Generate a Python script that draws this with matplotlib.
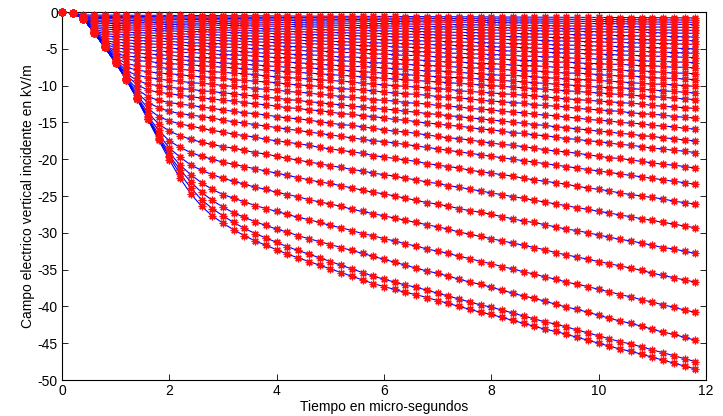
import matplotlib
matplotlib.use("Agg")
import matplotlib.pyplot as plt

# time samples (micro-seconds)
t_us = [0.0, 0.2, 0.4, 0.6, 0.8, 1.0, 1.2, 1.4, 1.6, 1.8,
        2.0, 2.2, 2.4, 2.6, 2.8, 3.0, 3.2, 3.4, 3.6, 3.8,
        4.0, 4.2, 4.4, 4.6, 4.8, 5.0, 5.2, 5.4, 5.6, 5.8,
        6.0, 6.2, 6.4, 6.6, 6.8, 7.0, 7.2, 7.4, 7.6, 7.8,
        8.0, 8.2, 8.4, 8.6, 8.8, 9.0, 9.2, 9.4, 9.6, 9.8,
        10.0, 10.2, 10.4, 10.6, 10.8, 11.0, 11.2, 11.4, 11.6, 11.8]

# field magnitude (kV/m) of each curve (plotted as negative)
e01 = [0, 0.1, 0.9, 2.8, 4.8, 6.9, 9.2, 11.8, 14.6, 17.4,
       20.1, 22.6, 24.7, 26.4, 27.7, 28.7, 29.6, 30.4, 31.1, 31.7,
       32.3, 32.9, 33.4, 33.9, 34.4, 34.9, 35.4, 35.9, 36.4, 36.9,
       37.3, 37.7, 38.1, 38.4, 38.8, 39.2, 39.6, 40.0, 40.4, 40.8,
       41.1, 41.5, 41.9, 42.3, 42.7, 43.1, 43.4, 43.8, 44.2, 44.6,
       45.0, 45.4, 45.8, 46.1, 46.5, 46.9, 47.3, 47.7, 48.1, 48.5]
e02 = [0, 0.1, 0.9, 2.8, 4.8, 6.9, 9.2, 11.8, 14.6, 17.2,
       19.7, 22.0, 23.9, 25.5, 26.7, 27.7, 28.6, 29.4, 30.1, 30.7,
       31.3, 31.9, 32.4, 32.9, 33.4, 33.9, 34.4, 34.9, 35.4, 35.9,
       36.3, 36.7, 37.1, 37.4, 37.8, 38.2, 38.6, 39.0, 39.4, 39.8,
       40.1, 40.5, 40.9, 41.3, 41.7, 42.1, 42.4, 42.8, 43.2, 43.6,
       44.0, 44.4, 44.8, 45.1, 45.5, 45.9, 46.3, 46.7, 47.1, 47.5]
e03 = [0, 0.1, 0.9, 2.8, 4.8, 6.9, 9.2, 11.8, 14.5, 17.1,
       19.5, 21.4, 23.1, 24.5, 25.6, 26.5, 27.3, 27.9, 28.5, 29.0,
       29.5, 29.9, 30.4, 30.8, 31.2, 31.6, 32.0, 32.4, 32.8, 33.2,
       33.6, 34.0, 34.4, 34.8, 35.2, 35.5, 35.9, 36.3, 36.7, 37.0,
       37.4, 37.8, 38.2, 38.6, 38.9, 39.3, 39.7, 40.1, 40.4, 40.8,
       41.2, 41.6, 42.0, 42.3, 42.7, 43.1, 43.5, 43.8, 44.2, 44.6]
e04 = [0, 0.1, 0.9, 2.8, 4.8, 6.9, 9.2, 11.7, 14.5, 16.9,
       19.1, 20.8, 22.1, 23.2, 24.1, 24.8, 25.3, 25.8, 26.3, 26.7,
       27.1, 27.5, 27.9, 28.2, 28.6, 29.0, 29.3, 29.7, 30.1, 30.4,
       30.8, 31.1, 31.5, 31.8, 32.2, 32.5, 32.8, 33.2, 33.5, 33.9,
       34.2, 34.6, 34.9, 35.3, 35.6, 36.0, 36.3, 36.7, 37.0, 37.3,
       37.7, 38.0, 38.4, 38.7, 39.1, 39.4, 39.8, 40.1, 40.5, 40.8]
e05 = [0, 0.1, 0.9, 2.8, 4.8, 6.9, 9.2, 11.7, 14.3, 16.6,
       18.5, 19.7, 20.8, 21.5, 22.1, 22.6, 23.0, 23.4, 23.8, 24.1,
       24.5, 24.8, 25.1, 25.5, 25.8, 26.1, 26.4, 26.8, 27.1, 27.4,
       27.7, 28.0, 28.3, 28.6, 28.9, 29.2, 29.5, 29.9, 30.2, 30.5,
       30.8, 31.1, 31.4, 31.7, 32.0, 32.3, 32.7, 33.0, 33.3, 33.6,
       33.9, 34.2, 34.5, 34.8, 35.1, 35.5, 35.8, 36.1, 36.4, 36.7]
e06 = [0, 0.1, 0.9, 2.8, 4.8, 6.9, 9.2, 11.7, 14.1, 16.1,
       17.5, 18.4, 19.1, 19.6, 20.0, 20.4, 20.7, 21.0, 21.3, 21.6,
       21.9, 22.2, 22.5, 22.8, 23.1, 23.3, 23.6, 23.9, 24.2, 24.5,
       24.7, 25.0, 25.3, 25.6, 25.9, 26.1, 26.4, 26.7, 27.0, 27.2,
       27.5, 27.8, 28.1, 28.4, 28.6, 28.9, 29.2, 29.5, 29.7, 30.0,
       30.3, 30.6, 30.9, 31.1, 31.4, 31.7, 32.0, 32.2, 32.5, 32.8]
e07 = [0, 0.1, 0.9, 2.8, 4.8, 6.9, 9.1, 11.5, 13.7, 15.2,
       16.2, 16.8, 17.3, 17.7, 18.0, 18.3, 18.5, 18.8, 19.1, 19.3,
       19.6, 19.9, 20.1, 20.4, 20.6, 20.9, 21.1, 21.4, 21.6, 21.9,
       22.1, 22.3, 22.6, 22.8, 23.1, 23.3, 23.6, 23.8, 24.1, 24.3,
       24.6, 24.8, 25.1, 25.3, 25.6, 25.8, 26.1, 26.3, 26.6, 26.8,
       27.1, 27.3, 27.6, 27.8, 28.1, 28.3, 28.6, 28.8, 29.1, 29.3]
e08 = [0, 0.1, 0.9, 2.8, 4.8, 6.9, 9.1, 11.3, 13.1, 14.2,
       14.8, 15.2, 15.5, 15.8, 16.1, 16.3, 16.6, 16.8, 17.0, 17.3,
       17.5, 17.7, 17.9, 18.1, 18.4, 18.6, 18.8, 19.0, 19.2, 19.5,
       19.7, 19.9, 20.1, 20.3, 20.6, 20.8, 21.0, 21.2, 21.5, 21.7,
       21.9, 22.1, 22.3, 22.6, 22.8, 23.0, 23.2, 23.4, 23.7, 23.9,
       24.1, 24.3, 24.6, 24.8, 25.0, 25.2, 25.4, 25.7, 25.9, 26.1]
e09 = [0, 0.1, 0.9, 2.8, 4.8, 6.9, 9.0, 11.0, 12.3, 13.0,
       13.5, 13.8, 14.0, 14.2, 14.4, 14.7, 14.9, 15.1, 15.3, 15.5,
       15.7, 15.9, 16.1, 16.3, 16.5, 16.7, 16.9, 17.1, 17.3, 17.5,
       17.6, 17.8, 18.0, 18.2, 18.4, 18.6, 18.8, 19.0, 19.2, 19.4,
       19.6, 19.8, 20.0, 20.2, 20.4, 20.6, 20.8, 21.0, 21.2, 21.4,
       21.6, 21.8, 22.0, 22.2, 22.4, 22.6, 22.8, 23.0, 23.2, 23.4]
e10 = [0, 0.1, 0.9, 2.8, 4.8, 6.8, 8.9, 10.5, 11.5, 12.0,
       12.3, 12.5, 12.7, 12.9, 13.1, 13.3, 13.5, 13.7, 13.8, 14.0,
       14.2, 14.4, 14.5, 14.7, 14.9, 15.1, 15.3, 15.4, 15.6, 15.8,
       16.0, 16.2, 16.3, 16.5, 16.7, 16.9, 17.1, 17.2, 17.4, 17.6,
       17.8, 18.0, 18.1, 18.3, 18.5, 18.7, 18.9, 19.0, 19.2, 19.4,
       19.6, 19.8, 19.9, 20.1, 20.3, 20.5, 20.7, 20.8, 21.0, 21.2]
e11 = [0, 0.1, 0.9, 2.8, 4.8, 6.8, 8.6, 9.9, 10.6, 10.9,
       11.1, 11.3, 11.5, 11.7, 11.8, 12.0, 12.1, 12.3, 12.5, 12.6,
       12.8, 13.0, 13.1, 13.3, 13.4, 13.6, 13.8, 13.9, 14.1, 14.2,
       14.4, 14.6, 14.7, 14.9, 15.1, 15.2, 15.4, 15.5, 15.7, 15.9,
       16.0, 16.2, 16.4, 16.5, 16.7, 16.8, 17.0, 17.2, 17.3, 17.5,
       17.6, 17.8, 18.0, 18.1, 18.3, 18.5, 18.6, 18.8, 18.9, 19.1]
e12 = [0, 0.1, 0.9, 2.8, 4.8, 6.7, 8.4, 9.3, 9.8, 10.0,
       10.2, 10.4, 10.5, 10.7, 10.8, 11.0, 11.1, 11.3, 11.4, 11.6,
       11.7, 11.9, 12.0, 12.2, 12.3, 12.5, 12.6, 12.8, 12.9, 13.1,
       13.2, 13.3, 13.5, 13.6, 13.8, 13.9, 14.1, 14.2, 14.4, 14.5,
       14.7, 14.8, 15.0, 15.1, 15.3, 15.4, 15.6, 15.7, 15.9, 16.0,
       16.2, 16.3, 16.5, 16.6, 16.8, 16.9, 17.1, 17.2, 17.4, 17.5]
e13 = [0, 0.1, 0.9, 2.8, 4.8, 6.6, 8.0, 8.6, 8.9, 9.1,
       9.3, 9.4, 9.6, 9.7, 9.8, 10.0, 10.1, 10.2, 10.4, 10.5,
       10.6, 10.8, 10.9, 11.0, 11.2, 11.3, 11.5, 11.6, 11.7, 11.9,
       12.0, 12.1, 12.3, 12.4, 12.5, 12.7, 12.8, 12.9, 13.1, 13.2,
       13.3, 13.5, 13.6, 13.7, 13.9, 14.0, 14.1, 14.3, 14.4, 14.6,
       14.7, 14.8, 15.0, 15.1, 15.2, 15.4, 15.5, 15.6, 15.8, 15.9]
e14 = [0, 0.1, 0.9, 2.8, 4.7, 6.5, 7.5, 7.9, 8.1, 8.3,
       8.4, 8.5, 8.7, 8.8, 8.9, 9.0, 9.2, 9.3, 9.4, 9.5,
       9.6, 9.8, 9.9, 10.0, 10.1, 10.3, 10.4, 10.5, 10.6, 10.7,
       10.9, 11.0, 11.1, 11.2, 11.3, 11.5, 11.6, 11.7, 11.8, 12.0,
       12.1, 12.2, 12.3, 12.4, 12.6, 12.7, 12.8, 12.9, 13.1, 13.2,
       13.3, 13.4, 13.5, 13.7, 13.8, 13.9, 14.0, 14.2, 14.3, 14.4]
e15 = [0, 0.1, 0.9, 2.8, 4.7, 6.2, 7.0, 7.3, 7.4, 7.5,
       7.7, 7.8, 7.9, 8.0, 8.1, 8.2, 8.3, 8.4, 8.5, 8.7,
       8.8, 8.9, 9.0, 9.1, 9.2, 9.3, 9.4, 9.5, 9.7, 9.8,
       9.9, 10.0, 10.1, 10.2, 10.3, 10.4, 10.5, 10.7, 10.8, 10.9,
       11.0, 11.1, 11.2, 11.3, 11.4, 11.5, 11.7, 11.8, 11.9, 12.0,
       12.1, 12.2, 12.3, 12.4, 12.5, 12.7, 12.8, 12.9, 13.0, 13.1]
e16 = [0, 0.1, 0.9, 2.8, 4.7, 5.9, 6.4, 6.6, 6.7, 6.9,
       7.0, 7.1, 7.2, 7.3, 7.4, 7.5, 7.6, 7.7, 7.8, 7.9,
       8.0, 8.1, 8.2, 8.3, 8.4, 8.5, 8.6, 8.7, 8.8, 8.9,
       9.0, 9.1, 9.2, 9.3, 9.4, 9.5, 9.6, 9.7, 9.8, 9.9,
       10.0, 10.1, 10.2, 10.3, 10.4, 10.5, 10.6, 10.7, 10.8, 10.9,
       11.0, 11.1, 11.2, 11.3, 11.4, 11.5, 11.6, 11.7, 11.8, 11.9]
e17 = [0, 0.1, 0.9, 2.8, 4.6, 5.6, 6.0, 6.1, 6.2, 6.3,
       6.4, 6.5, 6.6, 6.7, 6.8, 6.9, 7.0, 7.1, 7.2, 7.3,
       7.4, 7.5, 7.6, 7.6, 7.7, 7.8, 7.9, 8.0, 8.1, 8.2,
       8.3, 8.4, 8.5, 8.6, 8.7, 8.8, 8.9, 8.9, 9.0, 9.1,
       9.2, 9.3, 9.4, 9.5, 9.6, 9.7, 9.8, 9.9, 10.0, 10.1,
       10.2, 10.3, 10.3, 10.4, 10.5, 10.6, 10.7, 10.8, 10.9, 11.0]
e18 = [0, 0.1, 0.9, 2.8, 4.5, 5.3, 5.5, 5.6, 5.7, 5.8,
       5.9, 6.0, 6.1, 6.2, 6.2, 6.3, 6.4, 6.5, 6.6, 6.7,
       6.8, 6.8, 6.9, 7.0, 7.1, 7.2, 7.3, 7.4, 7.4, 7.5,
       7.6, 7.7, 7.8, 7.9, 8.0, 8.0, 8.1, 8.2, 8.3, 8.4,
       8.5, 8.6, 8.6, 8.7, 8.8, 8.9, 9.0, 9.1, 9.2, 9.2,
       9.3, 9.4, 9.5, 9.6, 9.7, 9.8, 9.8, 9.9, 10.0, 10.1]
e19 = [0, 0.1, 0.9, 2.8, 4.3, 4.9, 5.0, 5.1, 5.2, 5.3,
       5.4, 5.5, 5.5, 5.6, 5.7, 5.8, 5.8, 5.9, 6.0, 6.1,
       6.2, 6.2, 6.3, 6.4, 6.5, 6.5, 6.6, 6.7, 6.8, 6.9,
       6.9, 7.0, 7.1, 7.2, 7.3, 7.3, 7.4, 7.5, 7.6, 7.6,
       7.7, 7.8, 7.9, 8.0, 8.0, 8.1, 8.2, 8.3, 8.3, 8.4,
       8.5, 8.6, 8.7, 8.7, 8.8, 8.9, 9.0, 9.0, 9.1, 9.2]
e20 = [0, 0.1, 0.9, 2.8, 4.1, 4.5, 4.6, 4.7, 4.8, 4.8,
       4.9, 5.0, 5.1, 5.1, 5.2, 5.3, 5.3, 5.4, 5.5, 5.6,
       5.6, 5.7, 5.8, 5.8, 5.9, 6.0, 6.1, 6.1, 6.2, 6.3,
       6.3, 6.4, 6.5, 6.5, 6.6, 6.7, 6.8, 6.8, 6.9, 7.0,
       7.0, 7.1, 7.2, 7.3, 7.3, 7.4, 7.5, 7.5, 7.6, 7.7,
       7.8, 7.8, 7.9, 8.0, 8.0, 8.1, 8.2, 8.3, 8.3, 8.4]
e21 = [0, 0.1, 0.9, 2.7, 3.9, 4.1, 4.2, 4.3, 4.3, 4.4,
       4.4, 4.5, 4.6, 4.6, 4.7, 4.8, 4.8, 4.9, 5.0, 5.0,
       5.1, 5.2, 5.2, 5.3, 5.3, 5.4, 5.5, 5.5, 5.6, 5.7,
       5.7, 5.8, 5.9, 5.9, 6.0, 6.1, 6.1, 6.2, 6.2, 6.3,
       6.4, 6.4, 6.5, 6.6, 6.6, 6.7, 6.8, 6.8, 6.9, 7.0,
       7.0, 7.1, 7.1, 7.2, 7.3, 7.3, 7.4, 7.5, 7.5, 7.6]
e22 = [0, 0.1, 0.9, 2.7, 3.6, 3.7, 3.8, 3.9, 3.9, 4.0,
       4.0, 4.1, 4.2, 4.2, 4.3, 4.3, 4.4, 4.4, 4.5, 4.6,
       4.6, 4.7, 4.7, 4.8, 4.9, 4.9, 5.0, 5.0, 5.1, 5.1,
       5.2, 5.3, 5.3, 5.4, 5.4, 5.5, 5.6, 5.6, 5.7, 5.7,
       5.8, 5.8, 5.9, 6.0, 6.0, 6.1, 6.1, 6.2, 6.3, 6.3,
       6.4, 6.4, 6.5, 6.5, 6.6, 6.7, 6.7, 6.8, 6.8, 6.9]
e23 = [0, 0.1, 0.9, 2.65, 3.25, 3.35, 3.42, 3.47, 3.52, 3.57,
       3.63, 3.68, 3.73, 3.78, 3.84, 3.89, 3.94, 3.99, 4.05, 4.10,
       4.15, 4.20, 4.26, 4.31, 4.36, 4.41, 4.47, 4.52, 4.57, 4.62,
       4.68, 4.73, 4.78, 4.83, 4.89, 4.94, 4.99, 5.04, 5.10, 5.15,
       5.20, 5.25, 5.31, 5.36, 5.41, 5.46, 5.52, 5.57, 5.62, 5.67,
       5.73, 5.78, 5.83, 5.88, 5.94, 5.99, 6.04, 6.09, 6.15, 6.20]
e24 = [0, 0.1, 0.9, 2.55, 2.96, 3.04, 3.08, 3.13, 3.18, 3.23,
       3.27, 3.32, 3.37, 3.42, 3.46, 3.51, 3.56, 3.61, 3.65, 3.70,
       3.75, 3.80, 3.84, 3.89, 3.94, 3.99, 4.03, 4.08, 4.13, 4.18,
       4.22, 4.27, 4.32, 4.37, 4.41, 4.46, 4.51, 4.56, 4.60, 4.65,
       4.70, 4.75, 4.79, 4.84, 4.89, 4.94, 4.98, 5.03, 5.08, 5.13,
       5.17, 5.22, 5.27, 5.32, 5.36, 5.41, 5.46, 5.51, 5.55, 5.60]
e25 = [0, 0.1, 0.9, 2.41, 2.66, 2.71, 2.75, 2.80, 2.84, 2.88,
       2.92, 2.97, 3.01, 3.05, 3.09, 3.14, 3.18, 3.22, 3.26, 3.31,
       3.35, 3.39, 3.43, 3.47, 3.52, 3.56, 3.60, 3.64, 3.69, 3.73,
       3.77, 3.81, 3.86, 3.90, 3.94, 3.98, 4.03, 4.07, 4.11, 4.15,
       4.19, 4.24, 4.28, 4.32, 4.36, 4.41, 4.45, 4.49, 4.53, 4.58,
       4.62, 4.66, 4.70, 4.75, 4.79, 4.83, 4.87, 4.92, 4.96, 5.00]
e26 = [0, 0.1, 0.9, 2.21, 2.34, 2.39, 2.42, 2.46, 2.50, 2.54,
       2.57, 2.61, 2.65, 2.68, 2.72, 2.76, 2.80, 2.83, 2.87, 2.91,
       2.95, 2.98, 3.02, 3.06, 3.09, 3.13, 3.17, 3.21, 3.24, 3.28,
       3.32, 3.36, 3.39, 3.43, 3.47, 3.51, 3.54, 3.58, 3.62, 3.65,
       3.69, 3.73, 3.77, 3.80, 3.84, 3.88, 3.92, 3.95, 3.99, 4.03,
       4.06, 4.10, 4.14, 4.18, 4.21, 4.25, 4.29, 4.33, 4.36, 4.40]
e27 = [0, 0.1, 0.9, 2.00, 2.08, 2.12, 2.15, 2.18, 2.21, 2.25,
       2.28, 2.31, 2.35, 2.38, 2.41, 2.45, 2.48, 2.51, 2.55, 2.58,
       2.61, 2.64, 2.68, 2.71, 2.74, 2.78, 2.81, 2.84, 2.88, 2.91,
       2.94, 2.97, 3.01, 3.04, 3.07, 3.11, 3.14, 3.17, 3.21, 3.24,
       3.27, 3.31, 3.34, 3.37, 3.40, 3.44, 3.47, 3.50, 3.54, 3.57,
       3.60, 3.64, 3.67, 3.70, 3.74, 3.77, 3.80, 3.83, 3.87, 3.90]
e28 = [0, 0.1, 0.9, 1.77, 1.82, 1.84, 1.87, 1.90, 1.93, 1.96,
       1.99, 2.02, 2.05, 2.07, 2.10, 2.13, 2.16, 2.19, 2.22, 2.25,
       2.28, 2.31, 2.33, 2.36, 2.39, 2.42, 2.45, 2.48, 2.51, 2.54,
       2.56, 2.59, 2.62, 2.65, 2.68, 2.71, 2.74, 2.77, 2.79, 2.82,
       2.85, 2.88, 2.91, 2.94, 2.97, 3.00, 3.03, 3.05, 3.08, 3.11,
       3.14, 3.17, 3.20, 3.23, 3.26, 3.28, 3.31, 3.34, 3.37, 3.40]
e29 = [0, 0.1, 0.89, 1.52, 1.55, 1.57, 1.60, 1.62, 1.65, 1.67,
       1.70, 1.72, 1.75, 1.77, 1.79, 1.82, 1.84, 1.87, 1.89, 1.92,
       1.94, 1.97, 1.99, 2.02, 2.04, 2.06, 2.09, 2.11, 2.14, 2.16,
       2.19, 2.21, 2.24, 2.26, 2.29, 2.31, 2.33, 2.36, 2.38, 2.41,
       2.43, 2.46, 2.48, 2.51, 2.53, 2.56, 2.58, 2.61, 2.63, 2.65,
       2.68, 2.70, 2.73, 2.75, 2.78, 2.80, 2.83, 2.85, 2.88, 2.90]
e30 = [0, 0.1, 0.88, 1.31, 1.33, 1.36, 1.38, 1.40, 1.42, 1.44,
       1.46, 1.48, 1.50, 1.53, 1.55, 1.57, 1.59, 1.61, 1.63, 1.65,
       1.67, 1.69, 1.72, 1.74, 1.76, 1.78, 1.80, 1.82, 1.84, 1.86,
       1.89, 1.91, 1.93, 1.95, 1.97, 1.99, 2.01, 2.03, 2.06, 2.08,
       2.10, 2.12, 2.14, 2.16, 2.18, 2.20, 2.22, 2.25, 2.27, 2.29,
       2.31, 2.33, 2.35, 2.37, 2.39, 2.42, 2.44, 2.46, 2.48, 2.50]
e31 = [0, 0.1, 0.86, 1.10, 1.12, 1.14, 1.16, 1.17, 1.19, 1.21,
       1.23, 1.25, 1.26, 1.28, 1.30, 1.32, 1.33, 1.35, 1.37, 1.39,
       1.41, 1.42, 1.44, 1.46, 1.48, 1.50, 1.51, 1.53, 1.55, 1.57,
       1.58, 1.60, 1.62, 1.64, 1.66, 1.67, 1.69, 1.71, 1.73, 1.74,
       1.76, 1.78, 1.80, 1.82, 1.83, 1.85, 1.87, 1.89, 1.90, 1.92,
       1.94, 1.96, 1.98, 1.99, 2.01, 2.03, 2.05, 2.06, 2.08, 2.10]
e32 = [0, 0.1, 0.79, 0.89, 0.91, 0.92, 0.94, 0.95, 0.97, 0.98,
       0.99, 1.01, 1.02, 1.04, 1.05, 1.07, 1.08, 1.10, 1.11, 1.12,
       1.14, 1.15, 1.17, 1.18, 1.20, 1.21, 1.22, 1.24, 1.25, 1.27,
       1.28, 1.30, 1.31, 1.33, 1.34, 1.35, 1.37, 1.38, 1.40, 1.41,
       1.43, 1.44, 1.46, 1.47, 1.48, 1.50, 1.51, 1.53, 1.54, 1.56,
       1.57, 1.58, 1.60, 1.61, 1.63, 1.64, 1.66, 1.67, 1.69, 1.70]
e33 = [0, 0.1, 0.70, 0.74, 0.75, 0.76, 0.77, 0.78, 0.79, 0.81,
       0.82, 0.83, 0.84, 0.85, 0.87, 0.88, 0.89, 0.90, 0.91, 0.93,
       0.94, 0.95, 0.96, 0.97, 0.98, 1.00, 1.01, 1.02, 1.03, 1.04,
       1.06, 1.07, 1.08, 1.09, 1.10, 1.12, 1.13, 1.14, 1.15, 1.16,
       1.17, 1.19, 1.20, 1.21, 1.22, 1.23, 1.25, 1.26, 1.27, 1.28,
       1.29, 1.31, 1.32, 1.33, 1.34, 1.35, 1.36, 1.38, 1.39, 1.40]
e34 = [0, 0.1, 0.56, 0.58, 0.59, 0.60, 0.61, 0.62, 0.62, 0.63,
       0.64, 0.65, 0.66, 0.67, 0.68, 0.69, 0.70, 0.71, 0.72, 0.73,
       0.74, 0.75, 0.76, 0.76, 0.77, 0.78, 0.79, 0.80, 0.81, 0.82,
       0.83, 0.84, 0.85, 0.86, 0.87, 0.88, 0.89, 0.90, 0.90, 0.91,
       0.92, 0.93, 0.94, 0.95, 0.96, 0.97, 0.98, 0.99, 1.00, 1.01,
       1.02, 1.03, 1.03, 1.04, 1.05, 1.06, 1.07, 1.08, 1.09, 1.10]
e35 = [0, 0.1, 0.41, 0.42, 0.43, 0.43, 0.44, 0.45, 0.45, 0.46,
       0.47, 0.47, 0.48, 0.49, 0.49, 0.50, 0.51, 0.52, 0.52, 0.53,
       0.54, 0.54, 0.55, 0.56, 0.56, 0.57, 0.58, 0.58, 0.59, 0.60,
       0.60, 0.61, 0.62, 0.62, 0.63, 0.64, 0.64, 0.65, 0.66, 0.66,
       0.67, 0.68, 0.68, 0.69, 0.70, 0.71, 0.71, 0.72, 0.73, 0.73,
       0.74, 0.75, 0.75, 0.76, 0.77, 0.77, 0.78, 0.79, 0.79, 0.80]

curves = [e01, e02, e03, e04, e05, e06, e07, e08, e09, e10,
          e11, e12, e13, e14, e15, e16, e17, e18, e19, e20,
          e21, e22, e23, e24, e25, e26, e27, e28, e29, e30,
          e31, e32, e33, e34, e35]

x_ticks = [0, 2, 4, 6, 8, 10, 12]
y_ticks = [-50, -45, -40, -35, -30, -25, -20, -15, -10, -5, 0]


def main():
    plt.rcParams["font.family"] = ["Liberation Sans", "DejaVu Sans"]
    plt.rcParams["axes.unicode_minus"] = False

    fig = plt.figure(figsize=(7.23, 4.16), dpi=100)
    ax = fig.add_axes([62 / 723, 1 - 380 / 416, 644 / 723, 368 / 416])

    # blue lines first, red asterisks on top (like MATLAB 'b' then 'r*')
    for e in curves:
        ax.plot(t_us, [-v for v in e], color="#0000ff", lw=0.8, zorder=2)
    for e in curves:
        ax.plot(t_us, [-v for v in e], ls="none", marker=(8, 2, 0), ms=5.5,
                mec="#ff1010", mew=0.9, zorder=3, clip_on=False)

    ax.set_xlim(0, 12)
    ax.set_ylim(-50, 0)
    ax.set_xticks(x_ticks)
    ax.set_yticks(y_ticks)
    ax.tick_params(direction="in", top=True, right=True, length=4,
                   width=0.6, labelsize=10, pad=3)
    for sp in ax.spines.values():
        sp.set_linewidth(0.8)

    ax.set_xlabel("Tiempo en micro-segundos", fontsize=10, labelpad=1)
    ax.set_ylabel("Campo electrico vertical incidente en kV/m", fontsize=10,
                  labelpad=2)

    fig.savefig("out.png", dpi=100)
    plt.close(fig)


if __name__ == "__main__":
    main()
